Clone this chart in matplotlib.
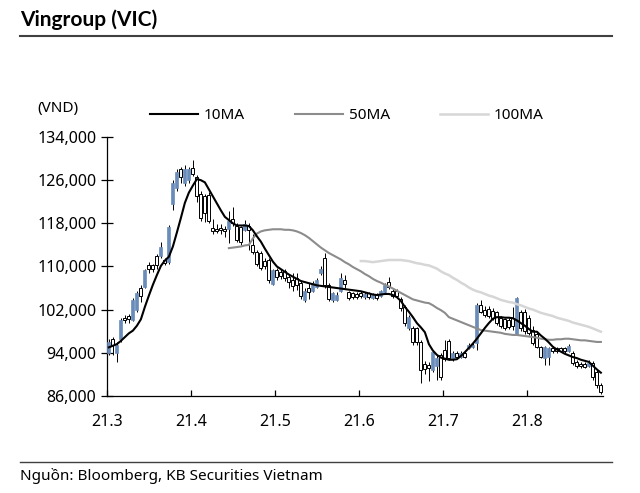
import matplotlib
matplotlib.use('Agg')
import matplotlib.pyplot as plt
from matplotlib.lines import Line2D
import numpy as np

plt.rcParams['font.family'] = ['Noto Sans', 'DejaVu Sans']

# daily prices, thousand VND (Mar-Aug 2021)
opens = [94.0, 96.5, 94.0, 96.5, 100.5, 100.8, 100.0, 102.0, 106.0, 106.2,
         110.3, 110.2, 112.0, 112.0, 111.2, 110.8, 121.5, 124.5, 128.0, 125.5,
         126.0, 128.2, 126.5, 123.5, 123.0, 123.3, 117.2, 117.0, 117.2, 117.0,
         117.0, 118.8, 117.5, 117.3, 116.8, 117.5, 114.0, 112.7, 112.5, 111.0,
         111.2, 106.8, 109.3, 109.0, 109.2, 108.0, 107.5, 107.8, 107.0, 103.8,
         106.0, 105.5, 106.2, 108.8, 111.6, 106.6, 103.8, 103.8, 105.5, 107.5,
         105.2, 105.0, 104.9, 105.1, 104.3, 105.0, 104.2, 104.8, 104.5, 105.3,
         107.2, 105.5, 105.4, 104.0, 102.5, 98.6, 98.6, 98.5, 96.0, 92.0,
         91.8, 90.8, 91.5, 93.6, 94.5, 96.2, 92.8, 94.0, 93.2, 94.0,
         94.9, 95.0, 95.8, 102.9, 102.0, 102.2, 101.8, 101.5, 100.4, 100.2,
         100.0, 100.5, 97.5, 101.5, 101.5, 100.5, 98.3, 97.5, 95.0, 93.0,
         93.2, 94.9, 94.8, 94.9, 94.8, 94.4, 94.0, 92.3, 92.0, 92.0,
         91.5, 92.1, 90.5, 88.0]
closes = [96.0, 95.5, 95.5, 100.0, 100.0, 100.2, 103.8, 105.0, 104.5, 109.3,
          109.5, 109.6, 110.3, 113.6, 110.6, 117.3, 125.5, 127.5, 126.5, 128.0,
          128.0, 127.2, 123.0, 119.0, 120.0, 118.5, 116.5, 116.6, 116.7, 116.5,
          118.5, 118.0, 115.0, 114.5, 117.8, 116.8, 112.7, 110.5, 109.8, 110.0,
          107.5, 109.3, 108.0, 108.3, 107.8, 107.2, 106.3, 106.6, 104.5, 105.5,
          105.2, 107.0, 107.5, 109.6, 106.6, 104.0, 105.0, 104.8, 107.8, 106.8,
          104.2, 104.3, 104.4, 104.5, 104.9, 104.3, 104.8, 104.2, 105.4, 106.6,
          106.2, 104.5, 104.6, 102.3, 99.5, 100.6, 96.0, 96.0, 90.8, 91.0,
          91.2, 94.2, 93.0, 89.5, 92.8, 93.0, 94.0, 93.2, 94.0, 93.3,
          95.4, 95.5, 102.9, 101.6, 101.0, 100.8, 100.4, 99.5, 99.0, 98.6,
          98.8, 99.0, 104.2, 98.5, 98.0, 97.7, 95.8, 95.0, 93.2, 95.0,
          94.8, 94.3, 94.3, 94.4, 94.3, 95.3, 92.1, 91.5, 91.5, 91.4,
          92.1, 89.5, 88.0, 86.7]
highs = [96.5, 97.0, 96.0, 100.5, 101.0, 101.2, 104.2, 105.5, 106.5, 109.6,
         110.8, 110.5, 112.3, 114.5, 111.5, 117.6, 126.0, 128.0, 128.5, 128.8,
         128.5, 129.7, 127.0, 124.0, 123.5, 123.8, 118.8, 117.8, 117.8, 117.5,
         120.2, 121.0, 118.0, 117.5, 118.6, 118.0, 116.0, 113.0, 112.8, 111.5,
         111.5, 109.6, 109.8, 109.6, 109.5, 108.5, 108.8, 108.8, 107.5, 106.0,
         107.0, 107.3, 107.8, 110.0, 112.5, 107.0, 105.3, 105.2, 108.8, 108.5,
         105.5, 105.3, 105.2, 105.4, 105.2, 105.2, 105.1, 105.0, 105.6, 107.0,
         108.0, 106.0, 105.8, 104.3, 102.8, 101.0, 99.0, 98.8, 96.3, 92.5,
         92.3, 94.5, 93.5, 94.0, 96.4, 96.6, 94.4, 94.3, 94.3, 94.3,
         95.8, 95.8, 103.2, 103.8, 102.6, 102.6, 102.3, 101.8, 100.8, 100.5,
         100.4, 102.5, 104.3, 102.0, 102.2, 101.0, 99.0, 98.0, 95.3, 95.2,
         95.0, 95.2, 95.0, 95.1, 95.0, 95.6, 94.3, 92.6, 92.2, 92.2,
         92.6, 92.4, 90.8, 88.3]
lows = [93.5, 93.5, 92.3, 96.0, 99.5, 99.6, 99.8, 101.5, 103.5, 106.0,
        108.8, 108.9, 109.5, 111.5, 110.2, 110.5, 120.5, 124.0, 125.5, 125.0,
        125.5, 126.8, 122.0, 118.5, 118.2, 118.0, 116.0, 116.2, 116.0, 115.5,
        114.3, 117.5, 114.5, 114.0, 116.5, 113.0, 112.3, 110.0, 109.3, 109.5,
        107.0, 106.5, 107.5, 107.6, 107.3, 106.0, 105.5, 105.6, 104.0, 103.5,
        104.0, 105.2, 106.0, 108.5, 106.0, 103.6, 103.5, 103.6, 105.2, 106.0,
        103.8, 104.0, 104.0, 104.2, 104.0, 103.9, 103.9, 103.8, 104.3, 105.0,
        105.8, 104.2, 104.2, 101.8, 99.0, 98.3, 95.5, 95.5, 88.4, 90.0,
        88.8, 90.5, 89.0, 89.0, 92.5, 92.6, 92.5, 92.8, 93.0, 93.0,
        94.7, 94.8, 94.5, 101.3, 100.6, 100.4, 100.0, 99.2, 98.5, 98.2,
        98.4, 98.3, 97.3, 98.0, 97.5, 97.3, 95.5, 94.8, 93.0, 91.7,
        91.7, 94.0, 94.0, 94.1, 94.0, 94.2, 91.8, 91.2, 91.2, 91.1,
        91.3, 89.0, 87.5, 86.4]

ma10 = [95.0, 95.3, 95.6, 96.2, 96.9, 97.6, 98.1, 99.0, 100.2, 102.5,
        104.6, 106.6, 108.4, 110.1, 111.1, 111.8, 113.7, 116.3, 119.0, 121.8,
        123.7, 125.0, 126.2, 126.0, 125.6, 124.3, 123.0, 121.7, 120.4, 119.2,
        118.6, 118.0, 117.6, 117.6, 117.6, 117.5, 116.7, 115.6, 114.6, 113.3,
        112.1, 110.9, 110.0, 109.5, 109.0, 108.5, 108.1, 107.7, 107.3, 107.1,
        106.9, 106.7, 106.5, 106.4, 106.3, 106.2, 106.1, 106.0, 105.9, 105.8,
        105.7, 105.6, 105.5, 105.4, 105.2, 105.0, 104.8, 104.7, 104.8, 104.9,
        104.9, 104.7, 104.3, 103.6, 102.5, 101.6, 100.6, 99.5, 98.7, 97.8,
        95.6, 94.4, 93.6, 93.1, 92.9, 92.7, 92.7, 92.8, 93.4, 94.1,
        94.9, 95.7, 96.6, 97.6, 98.6, 99.5, 100.3, 100.6, 100.6, 100.5,
        100.5, 100.4, 100.0, 99.5, 99.0, 98.4, 97.9, 97.9, 97.2, 96.6,
        95.9, 95.1, 94.6, 94.2, 93.8, 93.5, 93.2, 93.0, 92.7, 92.5,
        92.3, 91.6, 90.9, 90.3]
ma50 = [np.nan] * 30 + [
        113.4, 113.5, 113.6, 113.7, 113.9, 114.0, 115.2, 116.1, 116.5, 116.7,
        116.8, 116.9, 116.9, 116.9, 116.8, 116.8, 116.7, 116.5, 116.2, 115.8,
        115.3, 114.7, 114.1, 113.5, 113.0, 112.5, 112.1, 111.7, 111.3, 110.8,
        110.4, 109.9, 109.5, 109.1, 108.6, 108.2, 107.7, 107.3, 107.0, 106.6,
        106.3, 105.9, 105.5, 105.1, 104.7, 104.3, 103.9, 103.7, 103.5, 103.3,
        103.2, 102.8, 102.3, 101.9, 101.4, 100.6, 100.3, 100.0, 99.7, 99.4,
        99.1, 98.8, 98.5, 98.2, 98.1, 98.0, 97.9, 97.8, 97.7, 97.5,
        97.4, 97.3, 97.3, 97.2, 97.1, 97.0, 96.9, 96.8, 96.6, 96.5,
        96.4, 96.4, 96.5, 96.5, 96.6, 96.6, 96.5, 96.4, 96.3, 96.3,
        96.2, 96.1, 96.0, 96.0]
ma100 = [np.nan] * 63 + [
        111.0, 111.0, 110.9, 110.8, 110.9, 111.0, 111.1, 111.2, 111.2, 111.2,
        111.2, 111.1, 111.0, 110.8, 110.6, 110.5, 110.3, 110.2, 109.9, 109.6,
        109.1, 108.7, 108.4, 107.9, 107.5, 107.0, 106.6, 106.1, 105.7, 105.4,
        105.2, 104.9, 104.6, 104.4, 104.1, 103.8, 103.6, 103.4, 103.3, 103.0,
        102.8, 102.5, 102.2, 102.0, 101.7, 101.4, 101.2, 101.0, 100.8, 100.5,
        100.3, 100.1, 99.9, 99.6, 99.4, 99.2, 99.0, 98.8, 98.5, 98.2, 97.9]

month_labels = ['21.3', '21.4', '21.5', '21.6', '21.7', '21.8']
month_start = [0, 21, 42, 63, 84, 105]

o = np.array(opens) * 1000
c = np.array(closes) * 1000
h = np.array(highs) * 1000
l = np.array(lows) * 1000
x = np.arange(len(o))

fig = plt.figure(figsize=(6.4, 4.93), dpi=100)
ax = fig.add_axes([0.167, 0.197, 0.775, 0.525])

blue = '#6a8cba'
up = c >= o
ax.vlines(x, l, h, color='black', lw=0.7, zorder=2)
ax.bar(x[up], (c - o)[up], bottom=o[up], width=0.75, color=blue,
       edgecolor=blue, lw=0.5, zorder=3)
ax.bar(x[~up], (o - c)[~up], bottom=c[~up], width=0.75, color='white',
       edgecolor='black', lw=0.7, zorder=3)

ax.plot(x, np.array(ma10) * 1000, color='black', lw=1.5, label='10MA', zorder=5)
ax.plot(x, np.array(ma50) * 1000, color='#8c8c8c', lw=1.5, label='50MA', zorder=4)
ax.plot(x, np.array(ma100) * 1000, color='#d6d6d6', lw=1.8, label='100MA', zorder=4)

ax.set_xlim(-0.5, len(o) - 0.5)
ax.set_ylim(86000, 134000)
ax.set_yticks(np.arange(86000, 134001, 8000))
ax.set_yticklabels([f'{v:,}' for v in range(86000, 134001, 8000)])
ax.set_xticks([m - 0.5 for m in month_start])
ax.set_xticklabels(month_labels)

for s in ['top', 'right']:
    ax.spines[s].set_visible(False)
for s in ['left', 'bottom']:
    ax.spines[s].set_linewidth(0.9)
ax.tick_params(axis='y', direction='inout', length=9, width=0.9, pad=3, labelsize=11.5)
ax.tick_params(axis='x', direction='in', length=4, width=0.9, pad=13, labelsize=11.5)

fig.text(0.058, 0.78, '(VND)', fontsize=11, va='center')
ax.legend(loc='center left', bbox_to_anchor=(0.235, 0.766), bbox_transform=fig.transFigure,
          ncol=3, frameon=False, fontsize=11, handlelength=3.1, handletextpad=0.4,
          columnspacing=3.3, borderpad=0, borderaxespad=0)

fig.text(0.031, 0.961, 'Vingroup (VIC)', fontsize=15, fontweight='bold',
         family=['Lato', 'DejaVu Sans'], va='center')
fig.add_artist(Line2D([0.031, 0.956], [0.927, 0.927], color='#404040', lw=1.5))
fig.add_artist(Line2D([0.031, 0.956], [0.063, 0.063], color='#404040', lw=1.0))
fig.text(0.031, 0.034, 'Nguồn: Bloomberg, KB Securities Vietnam', fontsize=11, va='center')

fig.savefig('out.png', dpi=100)
